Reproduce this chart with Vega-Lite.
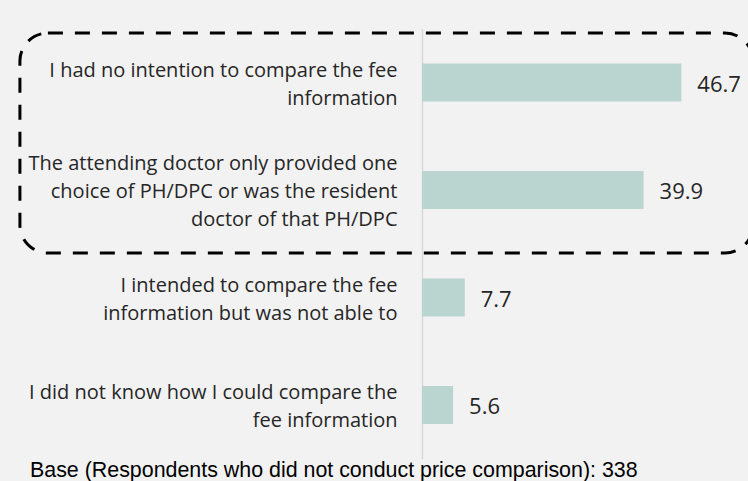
{
  "$schema": "https://vega.github.io/schema/vega-lite/v6.json",
  "autosize": "none",
  "width": 326,
  "height": 430,
  "padding": {"left": 422, "top": 28.75, "right": 0, "bottom": 22.25},
  "background": "#f2f2f2",
  "config": {"view": {"stroke": null}},
  "title": {
    "text": "Base (Respondents who did not conduct price comparison): 338",
    "orient": "bottom",
    "anchor": "start",
    "frame": "group",
    "dx": -392,
    "offset": 1,
    "font": "Liberation Sans",
    "fontSize": 21.4,
    "fontWeight": "normal",
    "color": "#000000"
  },
  "layer": [
    {
      "data": {
        "values": [
          {"reason": "I had no intention to compare the fee|information", "pct": 46.7},
          {"reason": "The attending doctor only provided one|choice of PH/DPC or was the resident|doctor of that PH/DPC", "pct": 39.9},
          {"reason": "I intended to compare the fee|information but was not able to", "pct": 7.7},
          {"reason": "I did not know how I could compare the|fee information", "pct": 5.6}
        ]
      },
      "encoding": {
        "y": {
          "field": "reason",
          "type": "nominal",
          "sort": null,
          "scale": {"paddingInner": 0.647, "paddingOuter": 0.3235},
          "axis": {
            "title": null,
            "ticks": false,
            "labelExpr": "split(datum.value, '|')",
            "labelFont": "Open Sans",
            "labelFontSize": 20,
            "labelLineHeight": 28,
            "labelColor": "#262626",
            "labelPadding": 25,
            "labelLimit": 500,
            "labelOffset": {
              "condition": {"test": "length(split(datum.value, '|')) == 3", "value": -26},
              "value": -12
            },
            "domainColor": "#d9d9d9",
            "domainWidth": 1.5
          }
        },
        "x": {
          "field": "pct",
          "type": "quantitative",
          "scale": {"domain": [0, 58.7], "nice": false},
          "axis": null
        }
      },
      "layer": [
        {"mark": {"type": "bar", "color": "#bad5d0"}},
        {
          "mark": {"type": "text", "align": "left", "baseline": "middle", "dx": 16, "dy": 2, "font": "Open Sans", "fontSize": 22, "color": "#262626"},
          "encoding": {"text": {"field": "pct", "type": "quantitative", "format": ".1f"}}
        }
      ]
    },
    {
      "data": {"values": [{"x0": -72.4, "x1": 59.6, "y0": 0.04, "y1": 2.086}]},
      "mark": {"type": "rect", "fill": null, "filled": false, "stroke": "#000000", "strokeWidth": 3, "strokeDash": [15, 12], "cornerRadius": 28},
      "encoding": {
        "x": {"field": "x0", "type": "quantitative"},
        "x2": {"field": "x1"},
        "y": {"field": "y0", "type": "quantitative", "scale": {"domain": [0, 4], "reverse": true, "nice": false}, "axis": null},
        "y2": {"field": "y1"}
      }
    }
  ],
  "resolve": {"scale": {"y": "independent"}}
}
